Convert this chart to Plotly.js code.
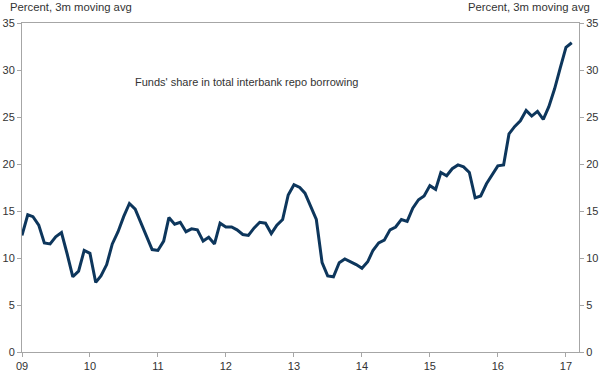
<!DOCTYPE html>
<html><head><meta charset="utf-8">
<script src="https://cdn.plot.ly/plotly-3.0.1.min.js"></script>
<style>html,body{margin:0;padding:0;background:#fff}#chart{width:600px;height:373px}</style>
</head><body><div id="chart"></div>
<script>
// Monthly observations, Jan 2009 .. Feb 2017
const startYear = 2009;
const fundsShare = [
  12.4, 14.6, 14.4, 13.5, 11.6, 11.5, 12.25, 12.7, 10.4, 8.0, 8.6, 10.8,   // 2009
  10.5, 7.4, 8.1, 9.3, 11.5, 12.8, 14.4, 15.8, 15.2, 13.8, 12.25, 10.9,    // 2010
  10.8, 11.8, 14.3, 13.6, 13.8, 12.8, 13.1, 13.0, 11.8, 12.2, 11.5, 13.7,  // 2011
  13.3, 13.3, 13.0, 12.5, 12.4, 13.2, 13.8, 13.7, 12.6, 13.5, 14.1, 16.7,  // 2012
  17.8, 17.5, 16.9, 15.5, 14.1, 9.5, 8.1, 8.0, 9.5, 9.9, 9.6, 9.3,         // 2013
  8.9, 9.6, 10.8, 11.6, 11.9, 13.0, 13.3, 14.1, 13.9, 15.3, 16.2, 16.6,    // 2014
  17.7, 17.3, 19.1, 18.75, 19.5, 19.9, 19.7, 19.1, 16.4, 16.6, 17.9, 18.9, // 2015
  19.8, 19.9, 23.2, 24.0, 24.6, 25.7, 25.1, 25.6, 24.75, 26.1, 28.0, 30.2, // 2016
  32.4, 32.9                                                               // 2017
];
const yearTicks = ['2009-01-01','2010-01-01','2011-01-01','2012-01-01','2013-01-01','2014-01-01','2015-01-01','2016-01-01','2017-01-01'];
const yearLabels = ['09','10','11','12','13','14','15','16','17'];
const yTicks = [0, 5, 10, 15, 20, 25, 30, 35];
const unitLabel = 'Percent, 3m moving avg';
const seriesLabel = "Funds' share in total interbank repo borrowing";

const dates = fundsShare.map((_, i) => {
  const y = startYear + Math.floor(i / 12);
  const m = (i % 12) + 1;
  return y + '-' + String(m).padStart(2, '0') + '-01';
});

const font = {family: 'Liberation Sans, Arial, sans-serif', size: 11, color: '#333'};
const textFont = {family: 'Liberation Sans, Arial, sans-serif', size: 11.3, color: '#333'};
const axisGray = '#a6a6a6';

const traces = [
  {x: dates, y: fundsShare, type: 'scatter', mode: 'lines',
   line: {color: '#0d365c', width: 3}, hoverinfo: 'skip', showlegend: false},
  {x: dates, y: fundsShare, type: 'scatter', mode: 'lines', yaxis: 'y2',
   line: {color: 'rgba(0,0,0,0)', width: 0}, hoverinfo: 'skip', showlegend: false}
];

const yCommon = {
  range: [0, 35], tickvals: yTicks, ticks: 'outside', ticklen: 4, tickcolor: axisGray,
  showline: true, linecolor: axisGray, linewidth: 1, showgrid: false, zeroline: false,
  tickfont: font, fixedrange: true
};

const layout = {
  width: 600, height: 373,
  margin: {l: 22, r: 21, t: 23, b: 21, pad: 0},
  paper_bgcolor: '#fff', plot_bgcolor: '#fff',
  font: font,
  xaxis: {
    type: 'date', range: ['2009-01-01', '2017-03-12'],
    tickvals: yearTicks, ticktext: yearLabels, ticks: 'outside', ticklen: 4, tickcolor: axisGray,
    showline: true, mirror: true, linecolor: axisGray, linewidth: 1, showgrid: false, zeroline: false,
    tickfont: font
  },
  yaxis: Object.assign({}, yCommon, {side: 'left'}),
  yaxis2: Object.assign({}, yCommon, {side: 'right', overlaying: 'y'}),
  annotations: [
    {text: unitLabel, xref: 'paper', yref: 'paper', x: (8-22)/557, y: 1, yshift: 16,
     xanchor: 'left', yanchor: 'middle', showarrow: false, font: textFont},
    {text: unitLabel, xref: 'paper', yref: 'paper', x: (592-22)/557, y: 1, yshift: 16,
     xanchor: 'right', yanchor: 'middle', showarrow: false, font: textFont},
    {text: seriesLabel, xref: 'paper', yref: 'paper', x: (133-22)/557, y: (352-82)/329,
     xanchor: 'left', yanchor: 'middle', showarrow: false, font: font}
  ]
};

Plotly.newPlot('chart', traces, layout, {staticPlot: true, displayModeBar: false});
</script>
</body></html>
